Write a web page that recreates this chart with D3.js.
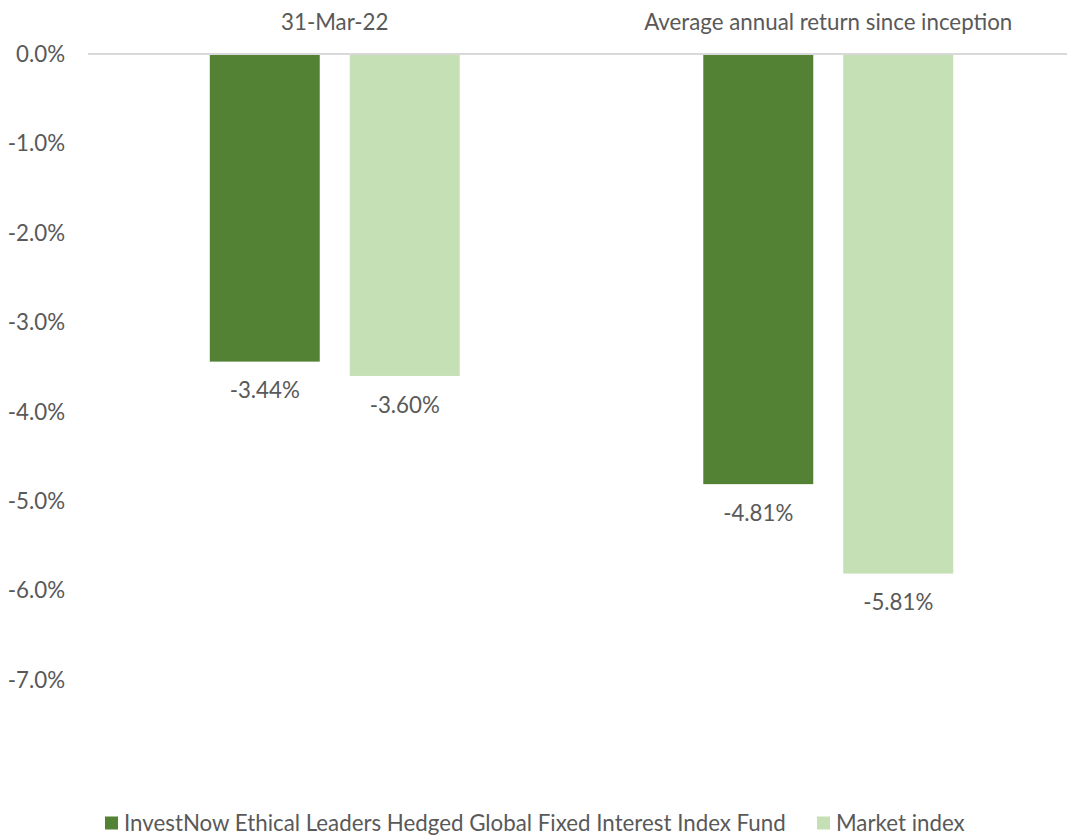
<!DOCTYPE html>
<meta charset="utf-8">
<html>
<head>
<style>
  body { margin: 0; background: #fff; }
  text { font-family: Lato, "Open Sans", sans-serif; fill: #595959; }
</style>
</head>
<body>
<div id="chart"></div>
<script src="https://d3js.org/d3.v7.min.js"></script>
<script>
// chart data
var categories = ["31-Mar-22", "Average annual return since inception"]
var seriesNames = ["InvestNow Ethical Leaders Hedged Global Fixed Interest Index Fund", "Market index"]
var fundValues = [-3.44, -4.81]
var indexValues = [-3.60, -5.81]
var yTicks = [0, -1, -2, -3, -4, -5, -6, -7]

var colors = ["#548235", "#C5E0B4"]

var W = 1067, H = 837
var fs = "22.3px"

// plain hyphen instead of unicode minus
function pct(spec) {
  var f = d3.format(spec)
  return function(v) { return f(v).replace("\u2212", "-") + "%" }
}

var svg = d3.select("#chart").append("svg")
  .attr("width", W)
  .attr("height", H)

// scales
var y = d3.scaleLinear().domain([0, -7]).range([54, 680])
var x0 = d3.scaleBand().domain(categories).range([88, 1075]).padding(0)
var x1 = d3.scaleBand().domain(seriesNames).range([0, x0.bandwidth()])
  .paddingInner(0.2143).paddingOuter(0.87)

// y tick labels
svg.selectAll(".ytick")
  .data(yTicks)
  .enter().append("text")
    .attr("x", 65)
    .attr("y", function(d) { return y(d) })
    .attr("dy", "0.35em")
    .attr("text-anchor", "end")
    .style("font-size", fs)
    .text(pct(".1f"))

// category labels at top
svg.selectAll(".cat")
  .data(categories)
  .enter().append("text")
    .attr("x", function(d) { return x0(d) + x0.bandwidth() / 2 })
    .attr("y", 22)
    .attr("dy", "0.35em")
    .attr("text-anchor", "middle")
    .style("font-size", fs)
    .text(function(d) { return d })

// build rows for bars
var rows = []
categories.forEach(function(c, i) {
  rows.push({cat: c, s: seriesNames[0], v: fundValues[i], col: colors[0]})
  rows.push({cat: c, s: seriesNames[1], v: indexValues[i], col: colors[1]})
})

svg.selectAll(".bar")
  .data(rows)
  .enter().append("rect")
    .attr("x", function(d) { return x0(d.cat) + x1(d.s) })
    .attr("y", y(0))
    .attr("width", x1.bandwidth())
    .attr("height", function(d) { return y(d.v) - y(0) })
    .style("fill", function(d) { return d.col })

// zero line
svg.append("line")
  .attr("x1", 88).attr("x2", 1075)
  .attr("y1", y(0)).attr("y2", y(0))
  .style("stroke", "#D9D9D9")
  .style("stroke-width", 2)

// value labels
var valFmt = pct(".2f")
svg.selectAll(".lbl")
  .data(rows)
  .enter().append("text")
    .attr("x", function(d) { return x0(d.cat) + x1(d.s) + x1.bandwidth() / 2 })
    .attr("y", function(d) { return y(d.v) + 29 })
    .attr("dy", "0.35em")
    .attr("text-anchor", "middle")
    .style("font-size", fs)
    .text(function(d) { return valFmt(d.v) })

// legend
var legendX = [105, 817]
var lg = svg.selectAll(".leg")
  .data(seriesNames)
  .enter().append("g")
    .attr("transform", function(d, i) { return "translate(" + legendX[i] + ",823)" })
lg.append("rect")
  .attr("x", 0).attr("y", -6.5)
  .attr("width", 13).attr("height", 13)
  .style("fill", function(d, i) { return colors[i] })
lg.append("text")
  .attr("x", 19)
  .attr("dy", "0.35em")
  .style("font-size", fs)
  .text(function(d) { return d })
</script>
</body>
</html>
